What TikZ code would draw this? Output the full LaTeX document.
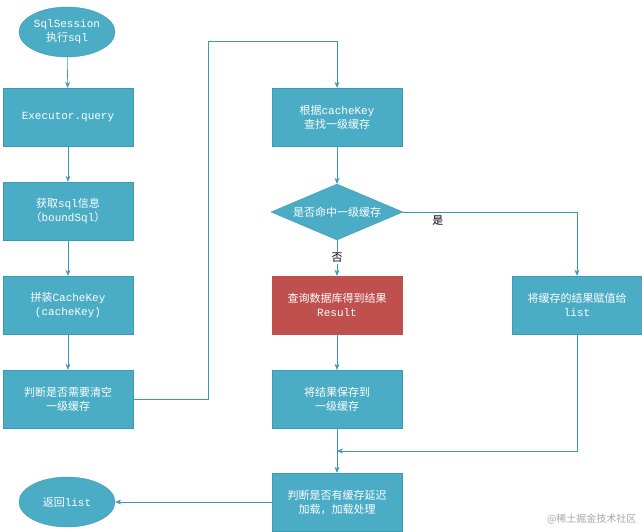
\documentclass[tikz,border=0pt]{standalone}
\usepackage{fontspec}
\setmainfont{Noto Sans CJK SC}
\setmonofont{Liberation Mono}
\usetikzlibrary{shapes.geometric,arrows.meta}
\definecolor{teal}{HTML}{4BACC6}
\definecolor{tealb}{HTML}{3C9AB3}
\definecolor{redb}{HTML}{C0504D}
\begin{document}
\begin{tikzpicture}[x=1pt,y=-1pt,
  font=\fontsize{11}{14}\selectfont,
  box/.style={draw=tealb,fill=teal,text=white,minimum width=130pt,minimum height=58pt,align=center,inner sep=2pt},
  oval/.style={ellipse,draw=tealb,fill=teal,text=white,minimum width=96pt,minimum height=50pt,align=center,inner sep=0pt},
  arr/.style={draw=tealb,-{Stealth[length=6pt,width=5pt]},line width=0.6pt}]
\useasboundingbox (0,0) rectangle (642,531);
\node[oval] (s) at (67,32) {\texttt{SqlSession}\\执行\texttt{sql}};
\node[box] (a) at (68,117) {\texttt{Executor.query}};
\node[box] (b) at (68,211) {获取\texttt{sql}信息\\（\texttt{boundSql}）};
\node[box] (c) at (68,305) {拼装\texttt{CacheKey}\\\texttt{(cacheKey)}};
\node[box] (d) at (68,399) {判断是否需要清空\\一级缓存};
\node[box] (e) at (337,117) {根据\texttt{cacheKey}\\查找一级缓存};
\node[diamond,aspect=2.4,draw=tealb,fill=teal,text=white,minimum width=132pt,minimum height=56pt,inner sep=0pt] (f) at (337,212) {是否命中一级缓存};
\node[box,fill=redb,draw=redb] (g) at (337,305) {查询数据库得到结果\\\texttt{Result}};
\node[box] (h) at (337,399) {将结果保存到\\一级缓存};
\node[box] (k) at (577,305) {将缓存的结果赋值给\\\texttt{list}};
\node[box] (m) at (337,502) {判断是否有缓存延迟\\加载，加载处理};
\node[oval] (r) at (67,502) {返回\texttt{list}};
\coordinate (j) at (337,451);
\node[text=gray!70,font=\fontsize{10}{12}\selectfont,anchor=east] (w) at (640,519) {@稀土掘金技术社区};
\draw[arr] (s) -- (a);
\draw[arr] (a) -- (b);
\draw[arr] (b) -- (c);
\draw[arr] (c) -- (d);
\draw[arr] (d.east) -- (208,399) -- (208,41) -- (337,41) -- (e.north);
\draw[arr] (e) -- (f);
\draw[arr] (f.east) -- (577,212) node[pos=0.2,below,text=black] {是} -- (k.north);
\draw[arr] (f.south) -- (g.north) node[midway,fill=white,text=black,inner sep=1pt] {否};
\draw[arr] (g) -- (h);
\draw[draw=tealb,line width=0.6pt] (h.south) -- (j);
\draw[arr] (k.south) -- (577,451) -- (j);
\draw[arr] (j) -- (m.north);
\draw[arr] (m) -- (r);
\end{tikzpicture}
\end{document}
